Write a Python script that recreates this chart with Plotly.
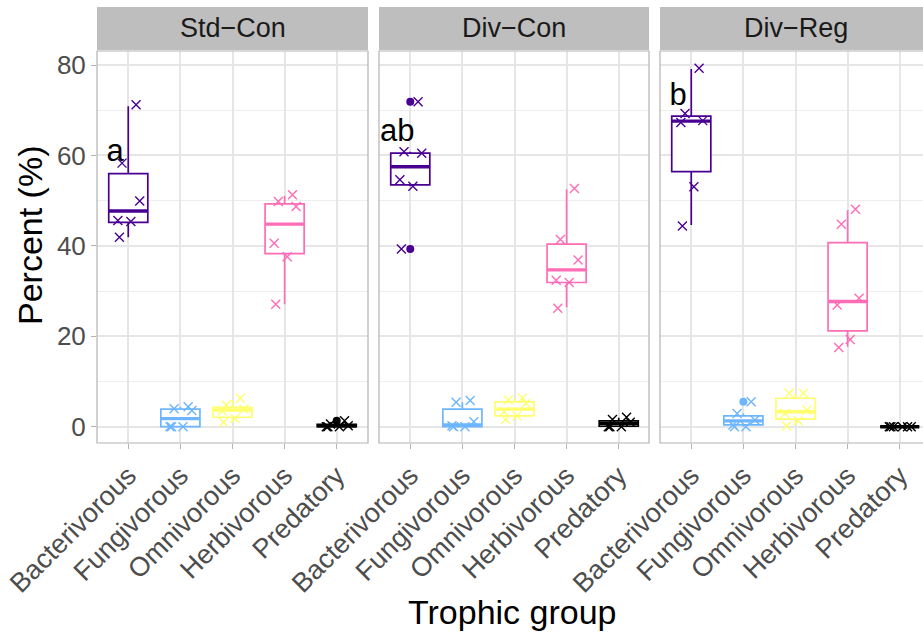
import plotly.graph_objects as go

# ---------------- data ----------------
groups = ["Bacterivorous", "Fungivorous", "Omnivorous", "Herbivorous", "Predatory"]
treatments = ["Std\u2212Con", "Div\u2212Con", "Div\u2212Reg"]
colors = ["#490092", "#6DB6FF", "#FFFF6D", "#FF6DB6", "#000000"]

# box statistics per treatment (order of groups)
std_con_lower = [41.9, 0.0, 1.0, 27.1, 0.0]
std_con_q1 = [45.2, 0.0, 2.1, 38.3, 0.0]
std_con_median = [47.7, 1.8, 3.7, 44.8, 0.2]
std_con_q3 = [56.0, 3.9, 4.3, 49.3, 0.5]
std_con_upper = [70.9, 4.4, 5.9, 51.1, 0.8]

div_con_lower = [53.2, 0.0, 1.6, 26.4, 0.0]
div_con_q1 = [53.5, 0.0, 2.4, 31.9, 0.1]
div_con_median = [57.5, 0.4, 3.9, 34.7, 0.7]
div_con_q3 = [60.5, 3.9, 5.5, 40.4, 1.3]
div_con_upper = [60.8, 5.4, 6.3, 52.5, 2.0]

div_reg_lower = [44.6, 0.0, 0.4, 17.7, 0.0]
div_reg_q1 = [56.4, 0.4, 1.7, 21.2, 0.0]
div_reg_median = [67.6, 1.3, 3.3, 27.7, 0.0]
div_reg_q3 = [68.7, 2.4, 6.3, 40.7, 0.0]
div_reg_upper = [79.1, 2.9, 7.4, 47.9, 0.0]

# individual observations (percent)
std_con_points = [
    [71.2, 58.3, 49.9, 45.6, 45.4, 41.9],
    [4.4, 4.0, 3.6, 0.0, 0.0, 0.0],
    [6.3, 4.8, 3.9, 3.5, 1.8, 1.0],
    [51.3, 49.8, 48.7, 40.6, 37.6, 27.1],
    [1.3, 0.6, 0.2, 0.0, 0.0, 0.0],
]
div_con_points = [
    [71.9, 60.8, 60.5, 54.6, 53.2, 39.3],
    [5.8, 5.4, 1.1, 0.2, 0.0, 0.0],
    [6.3, 5.9, 5.2, 3.3, 2.4, 1.6],
    [52.7, 41.4, 36.9, 32.4, 31.9, 26.2],
    [2.1, 1.6, 1.0, 0.0, 0.0, 0.0],
]
div_reg_points = [
    [79.3, 69.3, 67.7, 67.3, 53.1, 44.4],
    [5.5, 2.9, 1.5, 0.4, 0.0, 0.0],
    [7.4, 7.4, 3.7, 2.9, 1.3, 0.15],
    [48.1, 44.8, 28.4, 26.9, 19.3, 17.5],
    [0.0, 0.0, 0.0, 0.0, 0.0, 0.0],
]

# boxplot outliers
std_con_outliers = [[], [], [], [], [1.3]]
div_con_outliers = [[71.9, 39.3], [], [], [], []]
div_reg_outliers = [[], [5.5], [], [], []]

# significance letters on Bacterivorous
letters = ["a", "ab", "b"]
letter_y = [60.5, 65.0, 72.9]

y_ticks = [0, 20, 40, 60, 80]

# ---------------- style ----------------
W, H = 923, 634
FONT = "Liberation Sans, Arial, sans-serif"
jitter_pattern = [0.15, -0.12, 0.22, -0.2, 0.05, -0.17]
BOX_W = 0.75

panels = [
    dict(lower=std_con_lower, q1=std_con_q1, med=std_con_median, q3=std_con_q3,
         upper=std_con_upper, pts=std_con_points, out=std_con_outliers),
    dict(lower=div_con_lower, q1=div_con_q1, med=div_con_median, q3=div_con_q3,
         upper=div_con_upper, pts=div_con_points, out=div_con_outliers),
    dict(lower=div_reg_lower, q1=div_reg_q1, med=div_reg_median, q3=div_reg_q3,
         upper=div_reg_upper, pts=div_reg_points, out=div_reg_outliers),
]

# panel pixel extents
px_left = [97, 379, 660]
px_right = [368, 649, 923]
unit_px = 271 / 5.2
top_px, bottom_px = 51, 443

fig = go.Figure()
positions = list(range(1, len(groups) + 1))

for p, panel in enumerate(panels):
    xa = "x" if p == 0 else f"x{p+1}"
    ya = "y" if p == 0 else f"y{p+1}"
    for g, pos in enumerate(positions):
        c = colors[g]
        fig.add_trace(go.Box(
            x=[pos], q1=[panel["q1"][g]], median=[panel["med"][g]], q3=[panel["q3"][g]],
            lowerfence=[panel["lower"][g]], upperfence=[panel["upper"][g]],
            width=BOX_W, whiskerwidth=0, boxpoints=False,
            line=dict(color=c, width=1.7), fillcolor="white",
            xaxis=xa, yaxis=ya, showlegend=False, hoverinfo="skip"))
        # thicker median line (ggplot fatten)
        fig.add_trace(go.Scatter(
            x=[pos - BOX_W / 2, pos + BOX_W / 2],
            y=[panel["med"][g], panel["med"][g]],
            mode="lines", line=dict(color=c, width=3.4),
            xaxis=xa, yaxis=ya, showlegend=False, hoverinfo="skip"))
    for g, pos in enumerate(positions):
        c = colors[g]
        vals = panel["pts"][g]
        xs = [pos + jitter_pattern[i % len(jitter_pattern)] for i in range(len(vals))]
        fig.add_trace(go.Scatter(
            x=xs, y=vals, mode="markers",
            marker=dict(symbol="x-thin", size=9, line=dict(color=c, width=1.4)),
            xaxis=xa, yaxis=ya, showlegend=False, hoverinfo="skip"))
        if panel["out"][g]:
            fig.add_trace(go.Scatter(
                x=[pos] * len(panel["out"][g]), y=panel["out"][g], mode="markers",
                marker=dict(symbol="circle", size=8, color=c),
                xaxis=xa, yaxis=ya, showlegend=False, hoverinfo="skip"))
    fig.add_trace(go.Scatter(
        x=[positions[0] - 0.25], y=[letter_y[p]], mode="text", text=[letters[p]],
        textposition="middle center",
        textfont=dict(size=31, color="black", family=FONT),
        xaxis=xa, yaxis=ya, showlegend=False, hoverinfo="skip"))

ydom = [1 - bottom_px / H, 1 - top_px / H]
layout = dict(
    width=W, height=H, margin=dict(l=0, r=0, t=0, b=0, autoexpand=False),
    paper_bgcolor="white", plot_bgcolor="white", boxmode="overlay",
    font=dict(family=FONT), showlegend=False,
)
shapes = []
annotations = []
for p in range(3):
    xkey = "xaxis" if p == 0 else f"xaxis{p+1}"
    ykey = "yaxis" if p == 0 else f"yaxis{p+1}"
    x0 = px_left[p] / W
    x1 = px_right[p] / W
    hi = 0.4 + (px_right[p] - px_left[p]) / unit_px
    layout[xkey] = dict(
        domain=[x0, x1], range=[0.4, hi], tickmode="array",
        tickvals=positions, ticktext=groups, tickangle=-45,
        tickfont=dict(size=27, color="#4D4D4D", family=FONT),
        ticks="outside", ticklen=5, tickcolor="#B3B3B3", tickwidth=1,
        showgrid=True, gridcolor="#E6E6E6", gridwidth=1.5, zeroline=False,
        showline=False, automargin=False, anchor="y" if p == 0 else f"y{p+1}",
    )
    layout[ykey] = dict(
        domain=ydom, range=[-3.6, 83.1], tickmode="array", tickvals=y_ticks,
        showticklabels=(p == 0),
        tickfont=dict(size=26, color="#4D4D4D", family=FONT),
        ticks="outside" if p == 0 else "", ticklen=5, tickcolor="#B3B3B3", tickwidth=1,
        showgrid=True, gridcolor="#E6E6E6", gridwidth=1.5, zeroline=False,
        minor=dict(tickmode="linear", tick0=0, dtick=10, showgrid=True,
                   gridcolor="#EEEEEE", gridwidth=1),
        showline=False, automargin=False, anchor="x" if p == 0 else f"x{p+1}",
    )
    # panel border
    right_px = px_right[p] if p < 2 else px_left[p] + 271
    shapes.append(dict(type="rect", xref="paper", yref="paper",
                       x0=x0, x1=right_px / W, y0=ydom[0], y1=ydom[1],
                       line=dict(color="#B3B3B3", width=1.2), fillcolor="rgba(0,0,0,0)",
                       layer="above"))
    # strip
    shapes.append(dict(type="rect", xref="paper", yref="paper",
                       x0=x0, x1=right_px / W, y0=1 - 50 / H, y1=1 - 7 / H,
                       line=dict(width=0), fillcolor="#BEBEBE", layer="above"))
    annotations.append(dict(text=treatments[p], xref="paper", yref="paper",
                            x=(px_left[p] + right_px) / 2 / W, y=1 - 28.5 / H,
                            showarrow=False, xanchor="center", yanchor="middle",
                            font=dict(size=27, color="#1A1A1A", family=FONT)))

annotations.append(dict(text="Percent (%)", xref="paper", yref="paper",
                        x=30 / W, y=1 - 235 / H, textangle=-90, showarrow=False,
                        xanchor="center", yanchor="middle",
                        font=dict(size=34, color="black", family=FONT)))
annotations.append(dict(text="Trophic group", xref="paper", yref="paper",
                        x=512 / W, y=1 - 612 / H, showarrow=False,
                        xanchor="center", yanchor="middle",
                        font=dict(size=34, color="black", family=FONT)))
layout["shapes"] = shapes
layout["annotations"] = annotations
fig.update_layout(**layout)
fig.write_html("out.html")
